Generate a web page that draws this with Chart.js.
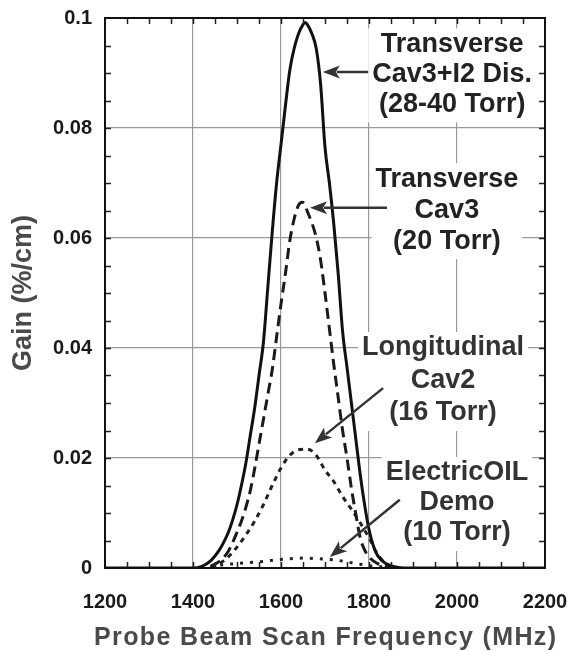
<!DOCTYPE html>
<html><head><meta charset="utf-8">
<script src="https://cdn.jsdelivr.net/npm/chart.js@4"></script>
<style>html,body{margin:0;padding:0;background:#fff;}#wrap{width:568px;height:652px;}</style>
</head><body><div id="wrap"><canvas id="c" width="568" height="652"></canvas></div>
<script>
// ---- data ----
const solidFreq = [1200,1400,1420,1440,1460,1470,1480,1490,1500,1510,1520,1530,1540,1550,1560,1570,1580,1590,1600,1610,1620,1630,1640,1650,1655,1660,1670,1680,1690,1700,1710,1720,1730,1740,1750,1760,1770,1780,1790,1800,1810,1820,1840,1860,1880,2200];
const solidGain = [0,0,0.0003,0.0013,0.0033,0.0047,0.0064,0.0087,0.0115,0.015,0.019,0.024,0.029,0.035,0.041,0.051,0.061,0.070,0.077,0.084,0.0905,0.0945,0.0972,0.0988,0.0992,0.0988,0.0972,0.0945,0.088,0.0765,0.070,0.0625,0.0535,0.043,0.0365,0.030,0.0235,0.017,0.0115,0.007,0.004,0.0022,0.0007,0.0002,0,0];

const dashFreq = [1440,1460,1480,1500,1510,1520,1530,1540,1550,1560,1570,1580,1590,1600,1610,1620,1630,1640,1648,1655,1660,1670,1680,1690,1700,1710,1720,1730,1740,1750,1760,1770,1780,1790,1800,1820,1840,1860];
const dashGain = [0.0003,0.0012,0.003,0.0065,0.0085,0.011,0.014,0.018,0.0225,0.027,0.0315,0.036,0.042,0.048,0.0535,0.0595,0.0635,0.066,0.0665,0.066,0.0648,0.0628,0.0601,0.056,0.050,0.0435,0.037,0.031,0.025,0.020,0.0145,0.0098,0.0055,0.0033,0.002,0.0008,0.0002,0];

const longFreq = [1440,1460,1480,1500,1520,1540,1560,1580,1600,1620,1640,1660,1680,1700,1720,1740,1760,1780,1800,1820,1840,1860];
const longGain = [0.0002,0.0008,0.002,0.0038,0.006,0.0085,0.0115,0.015,0.0182,0.0205,0.0215,0.0216,0.0205,0.0178,0.0157,0.013,0.0107,0.0082,0.0055,0.0024,0.0008,0.0002];

const demoFreq = [1440,1460,1500,1530,1560,1590,1620,1650,1680,1700,1720,1750,1780,1800,1830,1860];
const demoGain = [0,0.0005,0.0008,0.001,0.0012,0.0015,0.0017,0.0018,0.0017,0.0016,0.0015,0.0011,0.0007,0.0004,0.00025,0];

const xTickValues = [1200,1400,1600,1800,2000,2200];
const yTickLabels = ['0','0.02','0.04','0.06','0.08','0.1'];
const xTitle = 'Probe Beam Scan Frequency (MHz)';
const yTitle = 'Gain (%/cm)';

const labelLines = [
  ['Transverse','Cav3+I2 Dis.','(28-40 Torr)'],
  ['Transverse','Cav3','(20 Torr)'],
  ['Longitudinal','Cav2','(16 Torr)'],
  ['ElectricOIL','Demo','(10 Torr)']
];
const labelFreq = [1989,1977,1968,2000];
const labelGain = [0.0952,0.0707,0.0400,0.01727];
const labelGap = [30,31,32.5,30];

const arrowFrom = [[1798,0.0902],[1841,0.0655],[1832,0.0327],[1870,0.0124]];
const arrowTo   = [[1695,0.0902],[1666,0.0655],[1677,0.0227],[1711,0.0020]];

// ---- chart ----
const pts = (fx, gy) => fx.map((f,i)=>({x:f,y:gy[i]}));
const FAMILY = '"Liberation Sans", Arial, sans-serif';
const LABEL_FONT = 'bold 27px ' + FAMILY;

const decor = {
  id: 'decor',
  beforeDatasetsDraw(chart){
    const ctx = chart.ctx, xs = chart.scales.x, ys = chart.scales.y;
    ctx.save();
    ctx.font = LABEL_FONT;
    labelLines.forEach((lines,i)=>{
      const cx = xs.getPixelForValue(labelFreq[i]), cy = ys.getPixelForValue(labelGain[i]);
      const w = Math.max(...lines.map(t=>ctx.measureText(t).width));
      ctx.fillStyle = '#fff';
      ctx.fillRect(cx - w/2 - 4, cy - 16, w + 8, (lines.length-1)*labelGap[i] + 34);
    });
    ctx.restore();
  },
  afterDatasetsDraw(chart){
    const ctx = chart.ctx, xs = chart.scales.x, ys = chart.scales.y, a = chart.chartArea;
    ctx.save();
    // minor ticks
    ctx.strokeStyle = '#222'; ctx.lineWidth = 1.5;
    ctx.beginPath();
    for (let f = 1250; f < 2200; f += 50) {
      const px = Math.round(xs.getPixelForValue(f)) + 0.5;
      ctx.moveTo(px, a.bottom); ctx.lineTo(px, a.bottom - 6);
      ctx.moveTo(px, a.top); ctx.lineTo(px, a.top + 6);
    }
    for (let k = 1; k < 20; k++) {
      const py = Math.round(ys.getPixelForValue(k*0.005)) + 0.5;
      ctx.moveTo(a.left, py); ctx.lineTo(a.left + 6, py);
      ctx.moveTo(a.right, py); ctx.lineTo(a.right - 6, py);
    }
    ctx.stroke();
    // frame
    ctx.strokeStyle = '#111'; ctx.lineWidth = 2;
    ctx.strokeRect(a.left, a.top, a.right - a.left, a.bottom - a.top);
    // labels
    ctx.font = LABEL_FONT; ctx.textAlign = 'center'; ctx.textBaseline = 'middle';
    labelLines.forEach((lines,i)=>{
      const cx = xs.getPixelForValue(labelFreq[i]), cy = ys.getPixelForValue(labelGain[i]);
      ctx.fillStyle = i < 2 ? '#222' : '#333';
      lines.forEach((t,j)=>ctx.fillText(t, cx, cy + j*labelGap[i]));
    });
    // arrows
    ctx.strokeStyle = '#333'; ctx.fillStyle = '#333'; ctx.lineWidth = 2.5;
    arrowFrom.forEach((fr,i)=>{
      const x0 = xs.getPixelForValue(fr[0]), y0 = ys.getPixelForValue(fr[1]);
      const x1 = xs.getPixelForValue(arrowTo[i][0]), y1 = ys.getPixelForValue(arrowTo[i][1]);
      const ang = Math.atan2(y1 - y0, x1 - x0), hl = 17, hw = 6.5;
      const bx = x1 - hl*Math.cos(ang), by = y1 - hl*Math.sin(ang);
      ctx.beginPath(); ctx.moveTo(x0,y0); ctx.lineTo(bx + 3*Math.cos(ang), by + 3*Math.sin(ang)); ctx.stroke();
      ctx.beginPath();
      ctx.moveTo(x1,y1);
      ctx.lineTo(bx + hw*Math.sin(ang), by - hw*Math.cos(ang));
      ctx.lineTo(bx + 4*Math.cos(ang), by + 4*Math.sin(ang));
      ctx.lineTo(bx - hw*Math.sin(ang), by + hw*Math.cos(ang));
      ctx.closePath(); ctx.fill();
    });
    // axis titles
    ctx.fillStyle = '#4a4a4a'; ctx.textAlign = 'center'; ctx.textBaseline = 'middle';
    ctx.font = 'bold 25px ' + FAMILY;
    const w0 = ctx.measureText(xTitle).width;
    const ls = Math.max(0, (462 - w0) / (xTitle.length - 1));
    ctx.letterSpacing = ls.toFixed(2) + 'px';
    ctx.fillText(xTitle, (a.left + a.right)/2 + ls/2, 638);
    ctx.letterSpacing = '0px';
    ctx.font = 'bold 27px ' + FAMILY;
    ctx.translate(24, (a.top + a.bottom)/2);
    ctx.rotate(-Math.PI/2);
    ctx.fillText(yTitle, 0, 0);
    ctx.restore();
  }
};

new Chart(document.getElementById('c'), {
  type: 'line',
  data: {
    datasets: [
      {label:'Transverse Cav3+I2 Dis. (28-40 Torr)', data: pts(solidFreq, solidGain), borderColor:'#111', borderWidth:3},
      {label:'Transverse Cav3 (20 Torr)', data: pts(dashFreq, dashGain), borderColor:'#1a1a1a', borderWidth:3, borderDash:[11,6]},
      {label:'Longitudinal Cav2 (16 Torr)', data: pts(longFreq, longGain), borderColor:'#222', borderWidth:3, borderDash:[5,5]},
      {label:'ElectricOIL Demo (10 Torr)', data: pts(demoFreq, demoGain), borderColor:'#222', borderWidth:3, borderDash:[3,7]}
    ]
  },
  options: {
    responsive: false, animation: false, devicePixelRatio: 1,
    layout: {padding: {left: 0, top: 18, right: 23, bottom: 0}},
    elements: {point: {radius: 0}, line: {tension: 0.4, cubicInterpolationMode: 'monotone', fill: false}},
    plugins: {legend: {display: false}, tooltip: {enabled: false}},
    scales: {
      x: {
        type: 'linear', min: 1200, max: 2200,
        afterFit(s){ s.height = 84; s.paddingLeft = 0; s.paddingRight = 0; },
        afterBuildTicks(s){ s.ticks = xTickValues.map(v=>({value:v})); },
        grid: {color:'#9a9a9a', lineWidth:1.2, drawTicks:false},
        border: {color:'#111', width:2},
        ticks: {padding: 22, color:'#1a1a1a', font:{family:FAMILY, size:20, weight:'bold'}, callback: v => String(v), maxRotation:0},
        title: {display:false}
      },
      y: {
        type: 'linear', min: 0, max: 0.1,
        afterFit(s){ s.width = 105; s.paddingTop = 0; s.paddingBottom = 0; },
        afterBuildTicks(s){ s.ticks = yTickLabels.map(t=>({value:parseFloat(t)})); },
        grid: {color:'#9a9a9a', lineWidth:1.2, drawTicks:false},
        border: {color:'#111', width:2},
        ticks: {padding: 13, color:'#1a1a1a', font:{family:FAMILY, size:20, weight:'bold'}, callback: (v) => yTickLabels.find(t=>Math.abs(parseFloat(t)-v)<1e-9) ?? ''},
        title: {display:false}
      }
    }
  },
  plugins: [decor]
});
</script>
</body></html>
